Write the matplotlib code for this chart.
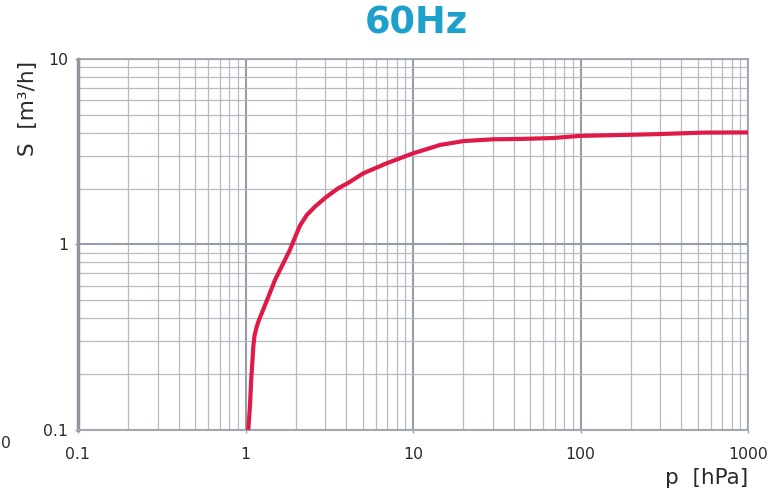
import matplotlib
matplotlib.use("Agg")
import matplotlib.pyplot as plt
from matplotlib.ticker import FixedLocator, FixedFormatter, NullFormatter, LogLocator

# data (p in hPa, S in m3/h)
pressure = [1.039, 1.064, 1.081, 1.098, 1.113, 1.131, 1.166, 1.204, 1.249, 1.37, 1.50,
            1.84, 1.98, 2.12, 2.32, 2.60, 3.05, 3.58, 4.11, 5.05, 6.96, 10.0, 14.5,
            20, 30, 45, 69, 82, 99, 272, 541, 1000]
speed = [0.100, 0.136, 0.186, 0.230, 0.280, 0.321, 0.360, 0.392, 0.425, 0.523, 0.644,
         0.934, 1.10, 1.27, 1.44, 1.60, 1.81, 2.01, 2.15, 2.42, 2.74, 3.10, 3.44,
         3.61, 3.69, 3.71, 3.75, 3.80, 3.85, 3.93, 4.01, 4.02]
x_ticks = [0.1, 1, 10, 100, 1000]
x_tick_labels = ["0.1", "1", "10", "100", "1000"]
y_ticks = [0.1, 1, 10]
y_tick_labels = ["0.1", "1", "10"]
title = "60Hz"
x_label = "p  [hPa]"
y_label = "S  [m³/h]"

plt.rcParams['font.family'] = ['DejaVu Sans']
text_color = '#2a2a2a'

W, H = 783, 495
fig = plt.figure(figsize=(W / 100, H / 100), dpi=100)
ax = fig.add_axes([78 / W, (H - 430) / H, (748 - 78) / W, (430 - 59) / H])
ax.set_xscale('log')
ax.set_yscale('log')
ax.set_xlim(0.1, 1000)
ax.set_ylim(0.1, 10)

ax.xaxis.set_major_locator(FixedLocator(x_ticks))
ax.xaxis.set_major_formatter(FixedFormatter(x_tick_labels))
ax.yaxis.set_major_locator(FixedLocator(y_ticks))
ax.yaxis.set_major_formatter(FixedFormatter(y_tick_labels))
ax.xaxis.set_minor_locator(LogLocator(base=10, subs=range(2, 10), numticks=20))
ax.yaxis.set_minor_locator(LogLocator(base=10, subs=range(2, 10), numticks=20))
ax.xaxis.set_minor_formatter(NullFormatter())
ax.yaxis.set_minor_formatter(NullFormatter())

ax.grid(which='major', color='#979da5', lw=1.5)
ax.grid(which='minor', color='#b7bbc1', lw=0.9)
ax.set_axisbelow(True)

ax.tick_params(which='major', length=2, width=1, color='#9ba1a8', labelsize=11.3,
               labelcolor=text_color)
ax.tick_params(axis='x', which='major', pad=10)
ax.tick_params(axis='y', which='major', pad=5)
ax.tick_params(which='minor', length=0)

for side in ['top', 'right']:
    ax.spines[side].set_color('#9ba1a8')
    ax.spines[side].set_linewidth(1.2)
ax.spines['left'].set_color('#8f969e')
ax.spines['left'].set_linewidth(2.5)
ax.spines['bottom'].set_color('#a3a8ae')
ax.spines['bottom'].set_linewidth(1.5)

ax.plot(pressure, speed, color='#df1a48', lw=3.0, solid_capstyle='butt',
        solid_joinstyle='round', zorder=5, clip_on=False)

fig.text(416.5 / W, 1 - 23.5 / H, title, ha='center', va='center', fontsize=26.5,
         weight='bold', color='#1ea0cc')
fig.text(28 / W, 1 - 108.5 / H, y_label, rotation=90, ha='center', va='center',
         fontsize=15.5, color=text_color)
fig.text(748 / W, 1 - 478.5 / H, x_label, ha='right', va='center', fontsize=15.5,
         color=text_color)
fig.text(1 / W, 1 - 444 / H, "0", ha='left', va='center', fontsize=11.3,
         color=text_color)

fig.savefig("out.png", dpi=100)
